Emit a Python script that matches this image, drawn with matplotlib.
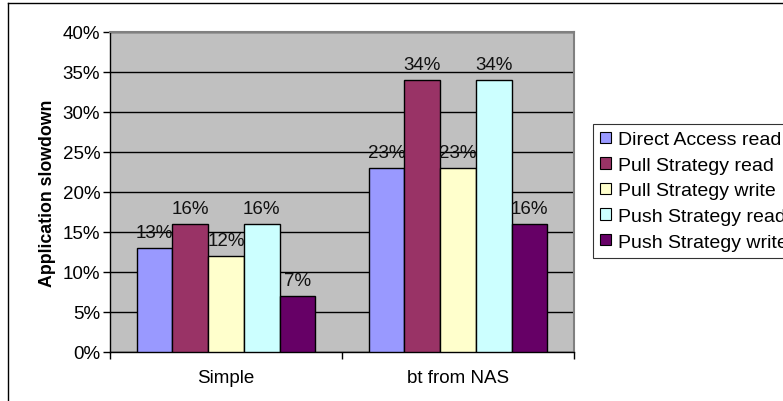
import matplotlib
matplotlib.use("Agg")
import matplotlib.pyplot as plt
from matplotlib.lines import Line2D
from matplotlib.patches import Patch
import numpy as np

plt.rcParams['font.family'] = ['Liberation Sans', 'DejaVu Sans']

# data
categories = ["Simple", "bt from NAS"]
series_names = ["Direct Access read", "Pull Strategy read", "Pull Strategy write",
                "Push Strategy read", "Push Strategy write"]
direct_read = [13, 23]
pull_read = [16, 34]
pull_write = [12, 23]
push_read = [16, 34]
push_write = [7, 16]
series_vals = [direct_read, pull_read, pull_write, push_read, push_write]
colors = ["#9999FF", "#993366", "#FFFFCC", "#CCFFFF", "#660066"]
yticks = [0, 5, 10, 15, 20, 25, 30, 35, 40]

fig = plt.figure(figsize=(7.83, 4.02), dpi=100)
ax = fig.add_axes([110/783, 49/402, 464/783, 320/402])
ax.set_facecolor("#C0C0C0")

x = np.arange(len(categories))
w = 0.154
for i, vals in enumerate(series_vals):
    bars = ax.bar(x + (i - 2) * w, vals, w, color=colors[i], edgecolor="black",
                  linewidth=1, zorder=3, label=series_names[i])
    # value labels above each bar
    for b, v in zip(bars, vals):
        ax.annotate(f"{v}%", (b.get_x() + b.get_width() / 2, v), xytext=(0, 5),
                    textcoords="offset points", ha="center", va="bottom",
                    fontsize=13.5, color="#111111", zorder=4)

ax.set_xlim(-0.5, 1.5)
ax.set_ylim(0, 40)
ax.set_yticks(yticks)
ax.set_yticklabels([f"{t}%" for t in yticks])
ax.yaxis.grid(True, color="black", linewidth=1, zorder=1)
ax.set_xticks(x)
ax.set_xticklabels(categories)
ax.set_xticks([-0.5, 0.5, 1.5], minor=True)
ax.tick_params(axis="x", which="major", length=0, pad=12, labelsize=13.5)
ax.tick_params(axis="x", which="minor", length=5, width=1, direction="out")
ax.tick_params(axis="y", length=5, width=1, direction="out", labelsize=13.5, pad=2)

for s in ["top", "right"]:
    ax.spines[s].set_color("#808080")
    ax.spines[s].set_linewidth(1.5)
for s in ["left", "bottom"]:
    ax.spines[s].set_color("black")
    ax.spines[s].set_linewidth(1)

ax.set_ylabel("Application slowdown", fontsize=12.8, fontweight="bold", labelpad=5)

handles = [Patch(facecolor=c, edgecolor="black", linewidth=0.8) for c in colors]
leg = fig.legend(handles, series_names, loc="upper left",
                 bbox_to_anchor=(593/783, 1 - 125/402), fontsize=14,
                 frameon=True, fancybox=False, handlelength=0.52, handleheight=0.52,
                 handletextpad=0.36, labelspacing=0.44, borderpad=0.38,
                 borderaxespad=0)
leg.get_frame().set_edgecolor("black")
leg.get_frame().set_linewidth(0.8)

# outer chart border
fig.add_artist(Line2D([8/783, 8/783], [0, 1 - 4/402], color="black", linewidth=1,
                      transform=fig.transFigure))
fig.add_artist(Line2D([8/783, 1], [1 - 4/402, 1 - 4/402], color="black", linewidth=1,
                      transform=fig.transFigure))

fig.savefig("out.png", dpi=100)
